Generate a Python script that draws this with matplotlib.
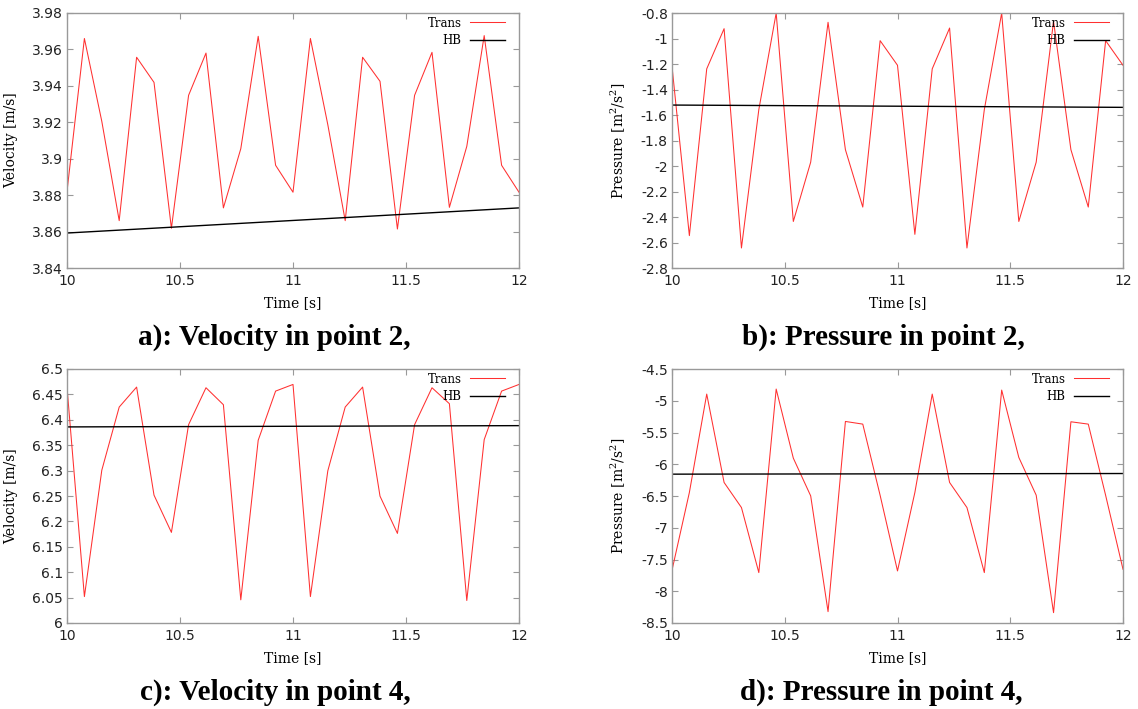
import matplotlib
matplotlib.use("Agg")
import matplotlib.pyplot as plt
from matplotlib.ticker import FuncFormatter, MultipleLocator

plt.rcParams['mathtext.fontset'] = 'dejavuserif'
plt.rcParams['mathtext.default'] = 'regular'

time = [10.0, 10.077, 10.154, 10.231, 10.308, 10.385, 10.462, 10.538, 10.615,
        10.692, 10.769, 10.846, 10.923, 11.0, 11.077, 11.154, 11.231, 11.308,
        11.385, 11.462, 11.538, 11.615, 11.692, 11.769, 11.846, 11.923, 12.0]

vel2_trans = [3.882, 3.966, 3.9205, 3.866, 3.9557, 3.9419, 3.8618, 3.9348, 3.958,
              3.873, 3.9055, 3.9672, 3.8964, 3.8816, 3.966, 3.9187, 3.866, 3.9557,
              3.9425, 3.8614, 3.9348, 3.9584, 3.8733, 3.9068, 3.9676, 3.8964, 3.8816]
pre2_trans = [-1.218, -2.546, -1.238, -0.923, -2.643, -1.558, -0.80, -2.435, -1.97,
              -0.873, -1.872, -2.322, -1.017, -1.21, -2.536, -1.238, -0.918, -2.643,
              -1.558, -0.80, -2.435, -1.97, -0.865, -1.872, -2.322, -1.017, -1.21]
vel4_trans = [6.4644, 6.052, 6.3008, 6.4251, 6.4644, 6.2517, 6.1784, 6.3904, 6.4631,
              6.4297, 6.0456, 6.3597, 6.4565, 6.4696, 6.052, 6.2995, 6.4251, 6.4644,
              6.2497, 6.1764, 6.3904, 6.4631, 6.4317, 6.0443, 6.361, 6.4565, 6.4696]
pre4_trans = [-7.669, -6.445, -4.895, -6.287, -6.682, -7.706, -4.816, -5.904, -6.498,
              -8.321, -5.326, -5.368, -6.49, -7.68, -6.445, -4.895, -6.287, -6.682,
              -7.706, -4.832, -5.893, -6.487, -8.337, -5.331, -5.368, -6.49, -7.654]

hb_time = [10.0, 12.0]
vel2_hb = [3.8592, 3.873]
pre2_hb = [-1.522, -1.540]
vel4_hb = [6.386, 6.3885]
pre4_hb = [-6.156, -6.146]

panels = [
    dict(trans=vel2_trans, hb=vel2_hb, ylim=(3.84, 3.98), step=0.02,
         ylabel='Velocity [m/s]', title='a): Velocity in point 2,',
         box=(67, 13, 452, 255), ylab_x=18, title_c=(274, 337)),
    dict(trans=pre2_trans, hb=pre2_hb, ylim=(-2.8, -0.8), step=0.2,
         ylabel='Pressure [m$^2$/s$^2$]', title='b): Pressure in point 2,',
         box=(672, 13, 451, 255), ylab_x=628, title_c=(883, 337)),
    dict(trans=vel4_trans, hb=vel4_hb, ylim=(6.0, 6.5), step=0.05,
         ylabel='Velocity [m/s]', title='c): Velocity in point 4,',
         box=(67, 369, 452, 254), ylab_x=18, title_c=(275, 692)),
    dict(trans=pre4_trans, hb=pre4_hb, ylim=(-8.5, -4.5), step=0.5,
         ylabel='Pressure [m$^2$/s$^2$]', title='d): Pressure in point 4,',
         box=(672, 369, 451, 254), ylab_x=628, title_c=(881, 692)),
]

W, H = 1138, 709
fig = plt.figure(figsize=(W / 100, H / 100), dpi=100)
fmt = FuncFormatter(lambda v, p: '%g' % round(v, 6))
frame_col = '#999999'

for p in panels:
    l, t, w, h = p['box']
    ax = fig.add_axes([l / W, 1 - (t + h) / H, w / W, h / H])
    ax.plot(time, p['trans'], color='#ff3030', lw=0.75, label='Trans')
    ax.plot(hb_time, p['hb'], color='black', lw=1.0, label='HB')
    ax.set_xlim(10, 12)
    ax.set_ylim(*p['ylim'])
    ax.xaxis.set_major_locator(MultipleLocator(0.5))
    ax.yaxis.set_major_locator(MultipleLocator(p['step']))
    ax.xaxis.set_major_formatter(fmt)
    ax.yaxis.set_major_formatter(fmt)
    ax.tick_params(direction='in', length=4, width=0.8, color=frame_col,
                   top=True, right=True, labelsize=10, labelcolor='#222222', pad=3)
    ax.tick_params(axis='x', pad=4)
    for s in ax.spines.values():
        s.set_color(frame_col)
        s.set_linewidth(1.0)
    ax.set_xlabel('Time [s]', family='DejaVu Serif', fontsize=10, labelpad=1)
    ax.xaxis.set_label_coords(0.5, -28 / h)
    ax.set_ylabel(p['ylabel'], family='DejaVu Serif', fontsize=10)
    ax.yaxis.set_label_coords((p['ylab_x'] - l) / w, 0.5)
    leg = ax.legend(loc='upper right', markerfirst=False, frameon=False,
                    prop={'family': 'DejaVu Serif', 'size': 8.5},
                    handlelength=3.0, handletextpad=0.7, labelspacing=0.4,
                    borderaxespad=0.1, borderpad=0.2,
                    bbox_to_anchor=(1 - 10 / w, 1))
    for txt in leg.get_texts():
        txt.set_ha('right')
    cx, cy = p['title_c']
    fig.text(cx / W, 1 - cy / H, p['title'], ha='center', va='center',
             family='Liberation Serif', weight='bold', fontsize=21)

fig.savefig('out.png', dpi=100)
